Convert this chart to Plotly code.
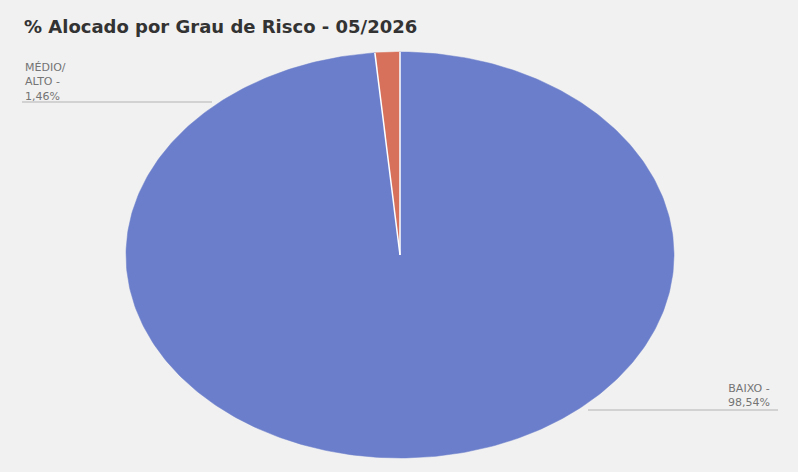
import numpy as np
import plotly.graph_objects as go

# ---- data ----
categories = ["MÉDIO/ ALTO", "BAIXO"]
label_lines = [["MÉDIO/", "ALTO -"], ["BAIXO -"]]
values = [1.46, 98.54]
colors = ["#d8715b", "#6b7ecb"]
title_text = "% Alocado por Grau de Risco - 05/2026"

W, H = 798, 472
cx, cy = 400, 217      # y measured from bottom (472-255)
rx, ry = 274, 203

fig = go.Figure()

total = sum(values)
start = 0.0
sep_x, sep_y = [], []
# slices go counter-clockwise from 12 o'clock
for cat, v, col in zip(categories, values, colors):
    frac0 = start / total
    frac1 = (start + v) / total
    t = np.linspace(frac0, frac1, max(int(400 * (frac1 - frac0)), 8)) * 2 * np.pi
    xs = np.concatenate([[cx], cx - rx * np.sin(t), [cx]])
    ys = np.concatenate([[cy], cy + ry * np.cos(t), [cy]])
    fig.add_trace(go.Scatter(
        x=xs, y=ys, mode="lines", fill="toself", fillcolor=col,
        line=dict(color=col, width=0.5),
        name=cat, hoverinfo="text",
        hovertext=f"{cat}: {v:.2f}%".replace(".", ","),
        showlegend=False,
    ))
    a = frac0 * 2 * np.pi
    sep_x += [cx, cx - rx * np.sin(a), None]
    sep_y += [cy, cy + ry * np.cos(a), None]
    start += v

# white slice separators
fig.add_trace(go.Scatter(x=sep_x, y=sep_y, mode="lines",
                         line=dict(color="white", width=1.5),
                         hoverinfo="skip", showlegend=False))

def pct(v):
    return f"{v:.2f}%".replace(".", ",")

lab_font = dict(family="DejaVu Sans, Arial", size=11, color="#747474")

# label for slice 0 (top-left)
fig.add_annotation(x=23, y=H - 81.5, xref="x", yref="y",
                   xanchor="left", yanchor="middle",
                   text="<br>".join(label_lines[0] + [pct(values[0])]),
                   align="left", showarrow=False, font=lab_font)
# label for slice 1 (bottom-right)
fig.add_annotation(x=749, y=H - 395, xref="x", yref="y",
                   xanchor="center", yanchor="middle",
                   text="<br>".join(label_lines[1] + [pct(values[1])]),
                   align="center", showarrow=False, font=lab_font)
# leader lines
fig.add_shape(type="line", x0=22, x1=212, y0=H - 102, y1=H - 102,
              line=dict(color="#d2d2d2", width=2))
fig.add_shape(type="line", x0=588, x1=778, y0=H - 410, y1=H - 410,
              line=dict(color="#d2d2d2", width=2))

fig.update_layout(
    width=W, height=H,
    margin=dict(l=0, r=0, t=0, b=0),
    paper_bgcolor="#f1f1f1", plot_bgcolor="#f1f1f1",
    title=dict(text=f"<b>{title_text}</b>", x=24 / W, xanchor="left",
               y=1 - 27 / H, yanchor="middle",
               font=dict(family="DejaVu Sans, Arial", size=18, color="#333333")),
    xaxis=dict(range=[0, W], visible=False, fixedrange=True),
    yaxis=dict(range=[0, H], visible=False, fixedrange=True),
)

fig.write_html("out.html", config={"displayModeBar": False},
               post_script="document.body.style.margin='0';document.body.style.background='#f1f1f1';")
